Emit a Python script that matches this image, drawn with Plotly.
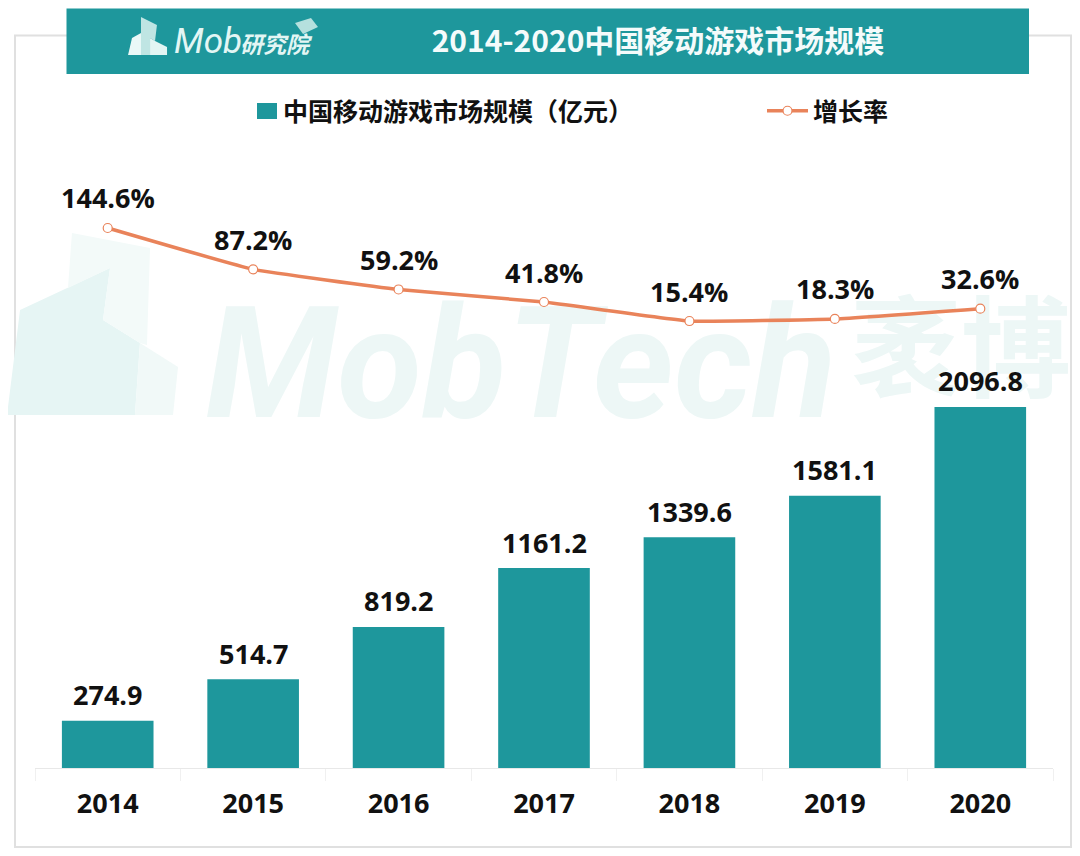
import plotly.graph_objects as go

# 页面有 8px 的 body 边距，图的实际尺寸要减掉
W, H = 1072, 848
# 绘图区顶部留到图例上方，图例在绘图区内就不会挤压边距
PLOT_L, PLOT_R, PLOT_T, PLOT_B = 35, 1053, 85, 768

years = ["2014", "2015", "2016", "2017", "2018", "2019", "2020"]
market_size = [274.9, 514.7, 819.2, 1161.2, 1339.6, 1581.1, 2096.8]
growth_rate = [144.6, 87.2, 59.2, 41.8, 15.4, 18.3, 32.6]

TEAL = "#1e979c"
ORANGE = "#e9835a"
WATERMARK = "#edf7f6"
FONT = "Noto Sans CJK SC"
NUM_FONT = "Open Sans"
NUM_SIZE = 27


def px(x):
    return (x - PLOT_L) / (PLOT_R - PLOT_L)


def py(y):
    return (PLOT_B - y) / (PLOT_B - PLOT_T)


def poly(points, color):
    # 页面像素坐标 -> paper 坐标的多边形
    path = "M " + " L ".join(f"{px(x):.4f},{py(y):.4f}" for x, y in points) + " Z"
    return dict(type="path", xref="paper", yref="paper", path=path, fillcolor=color,
                line_width=0, layer="below")


fig = go.Figure()

fig.add_trace(go.Bar(
    x=years,
    y=market_size,
    name="中国移动游戏市场规模（亿元）",
    marker=dict(color=TEAL, line_width=0),
    width=0.63,
    legend="legend",
))

fig.add_trace(go.Scatter(
    x=years,
    y=growth_rate,
    name="增长率",
    yaxis="y2",
    mode="lines+markers",
    line=dict(color=ORANGE, width=3.5, shape="spline", smoothing=0.3),
    marker=dict(size=9, color="white", line=dict(color=ORANGE, width=1.2)),
    legend="legend2",
))

shapes = [
    # 外框
    dict(type="rect", xref="paper", yref="paper", x0=px(15), x1=px(1071), y0=py(847), y1=py(35.5),
         line=dict(color="#e0e0e0", width=2), fillcolor="white", layer="below"),
    # 水印
    poly([(7, 415), (20, 310), (110, 268), (103, 320), (140, 343), (135, 415)], "#e6f5f4"),
    poly([(72, 233), (150, 248), (147, 345), (140, 343), (103, 320), (110, 268), (68, 288)], "#f3faf9"),
    poly([(140, 343), (178, 367), (173, 415), (135, 415)], "#f1f9f8"),
    dict(type="rect", xref="paper", yref="paper", x0=px(205), x1=px(837), y0=py(443), y1=py(263),
         line_width=0, fillcolor="rgba(0,0,0,0)", layer="below",
         label=dict(text="<b><i>MobTech</i></b>", textposition="middle center",
                    font=dict(family="Roboto", size=155, color=WATERMARK))),
    dict(type="rect", xref="paper", yref="paper", x0=px(850), x1=px(1072), y0=py(445), y1=py(273),
         line_width=0, fillcolor="rgba(0,0,0,0)", layer="below",
         label=dict(text="<b>袤博</b>", textposition="middle center",
                    font=dict(family=FONT, size=110, color=WATERMARK))),
    # 标题栏
    dict(type="rect", xref="paper", yref="paper", x0=px(66.5), x1=px(1029), y0=py(74), y1=py(8.5),
         line_width=0, fillcolor=TEAL, layer="below"),
    # logo
    poly([(128, 55), (132, 38), (141, 33), (141, 55)], "#eaf8f7"),
    poly([(141, 17), (157, 25), (155, 41), (150, 38), (150, 55), (141, 55)], "#bfe5e3"),
    poly([(150, 38), (155, 41), (167, 47), (167, 55), (150, 55)], "#e3f5f3"),
    poly([(295, 23), (311, 18), (318, 27), (303, 34)], "#b5e0de"),
    # 图例色块
    dict(type="rect", xref="paper", yref="paper", x0=px(257), x1=px(277), y0=py(119), y1=py(103),
         line_width=0, fillcolor=TEAL, layer="below"),
]

annotations = [
    dict(text="<i>Mob</i>", x=px(172), y=py(41), xref="paper", yref="paper", xanchor="left",
         yanchor="middle", showarrow=False,
         font=dict(family="Roboto", size=35, color="#e3f6f4")),
    dict(text="<b><i>研究院</i></b>", x=px(238), y=py(43), xref="paper", yref="paper", xanchor="left",
         yanchor="middle", showarrow=False,
         font=dict(family=FONT, size=23, color="#e3f6f4")),
]

# 数值标签，x 用类别序号
label_font = dict(family=NUM_FONT, size=NUM_SIZE, color="#111111", weight=700)
for i, value in enumerate(market_size):
    annotations.append(dict(text=f"{value:.1f}", x=i, y=value, xref="x", yref="y", yshift=26,
                            yanchor="middle", showarrow=False, font=label_font))
for i, value in enumerate(growth_rate):
    annotations.append(dict(text=f"{value}%", x=i, y=value, xref="x", yref="y2", yshift=30,
                            yanchor="middle", showarrow=False, font=label_font))

legend_font = dict(family=FONT, size=25, color="#111111", weight=700)

fig.update_layout(
    width=W,
    height=H,
    margin=dict(l=PLOT_L - 8, r=W + 8 - PLOT_R, t=PLOT_T - 8, b=H + 8 - PLOT_B),
    autosize=False,
    paper_bgcolor="white",
    plot_bgcolor="rgba(0,0,0,0)",
    font=dict(family=FONT, color="#111111"),
    title=dict(
        text="<b>2014-2020中国移动游戏市场规模</b>",
        x=(658 - 8) / W, xanchor="center", y=1 - (41 - 8) / H, yanchor="middle",
        font=dict(family=FONT, size=30, color="#f4fbfb"),
    ),
    showlegend=True,
    legend=dict(
        orientation="h", x=px(243), xanchor="left", y=py(111), yanchor="middle",
        font=legend_font, bgcolor="rgba(0,0,0,0)",
    ),
    legend2=dict(
        orientation="h", x=px(762), xanchor="left", y=py(111), yanchor="middle",
        itemwidth=41, font=legend_font, bgcolor="rgba(0,0,0,0)",
    ),
    xaxis=dict(
        type="category",
        categoryorder="array",
        categoryarray=years,
        range=[-0.5, 6.5],
        tickson="boundaries",
        ticks="outside",
        ticklen=12,
        tickcolor="#f0f0f0",
        showline=True,
        linecolor="#e8e8e8",
        showgrid=False,
        tickangle=0,
        ticklabelstandoff=12,
        tickfont=dict(family=NUM_FONT, size=NUM_SIZE, color="#111111", weight=700),
    ),
    yaxis=dict(range=[0, 3966], visible=False, showgrid=False),
    yaxis2=dict(range=[-605.4, 343.2], overlaying="y", side="right", visible=False, showgrid=False),
    shapes=shapes,
    annotations=annotations,
)

fig.write_html("out.html")
